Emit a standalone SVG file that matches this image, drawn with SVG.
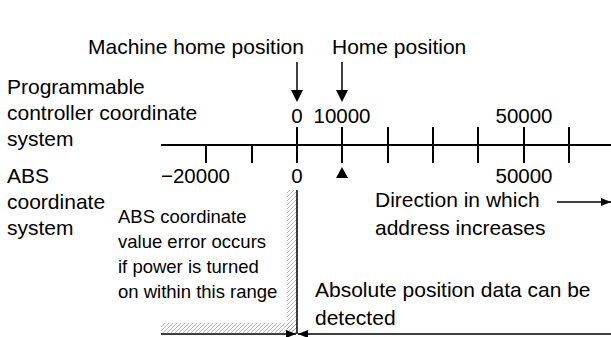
<svg xmlns="http://www.w3.org/2000/svg" width="611" height="337" viewBox="0 0 611 337">
<style>
text{font-family:"Liberation Sans",Arial,sans-serif;fill:#000}
.b{font-size:21px}
.n{font-size:20.5px}
.s{font-size:18.5px}
.ln{stroke:#000;stroke-width:2;fill:none}
.th{stroke:#000;stroke-width:1.5;fill:none}
</style>
<defs>
<pattern id="hatch" patternUnits="userSpaceOnUse" width="4" height="4">
<path d="M0,4 L4,0 M-1,1 L1,-1 M3,5 L5,3" stroke="#8a8a8a" stroke-width="0.6" fill="none"/>
</pattern>
<marker id="ah" markerWidth="10" markerHeight="8" refX="10" refY="4" orient="auto" markerUnits="userSpaceOnUse" viewBox="0 0 10 8">
<path d="M0,0 L10,4 L0,8 Z" fill="#000"/>
</marker>
</defs>

<g id="hatched-range">
<rect x="287" y="190" width="10" height="143" fill="url(#hatch)"/>
<rect x="161" y="323" width="136" height="10" fill="url(#hatch)"/>
</g>

<g id="connectors">
<line class="ln" x1="161" y1="145" x2="611" y2="145"/>
<line class="ln" x1="206" y1="145" x2="206" y2="163"/>
<line class="ln" x1="252" y1="145" x2="252" y2="163"/>
<line class="ln" x1="297" y1="127" x2="297" y2="163"/>
<line class="ln" x1="342" y1="127" x2="342" y2="163"/>
<line class="ln" x1="388" y1="127" x2="388" y2="163"/>
<line class="ln" x1="433" y1="127" x2="433" y2="163"/>
<line class="ln" x1="478" y1="127" x2="478" y2="163"/>
<line class="ln" x1="524" y1="127" x2="524" y2="163"/>
<line class="ln" x1="569" y1="127" x2="569" y2="163"/>
<line class="th" x1="297" y1="190" x2="297" y2="334"/>
<line class="th" x1="297" y1="62" x2="297" y2="92"/>
<line class="th" x1="342" y1="62" x2="342" y2="92"/>
<path d="M291,90 L303,90 L297,102 Z" fill="#000"/>
<path d="M336,90 L348,90 L342,102 Z" fill="#000"/>
<line class="th" x1="557" y1="202" x2="611" y2="202" marker-end="url(#ah)"/>
<line class="th" x1="161" y1="334" x2="296" y2="334" marker-end="url(#ah)"/>
<line class="th" x1="611" y1="334" x2="298" y2="334" marker-end="url(#ah)"/>
<path d="M336,178 L348,178 L342,167 Z" fill="#000"/>
</g>

<g id="machine-home-label">
<text class="b" x="88" y="54">Machine home position</text>
</g>
<g id="home-label">
<text class="b" x="332" y="54">Home position</text>
</g>
<g id="pc-coord-label">
<text class="b" x="7" y="94">Programmable</text>
<text class="b" x="7" y="120">controller coordinate</text>
<text class="b" x="7" y="146">system</text>
</g>
<g id="abs-coord-label">
<text class="b" x="7" y="183">ABS</text>
<text class="b" x="7" y="209">coordinate</text>
<text class="b" x="7" y="235">system</text>
</g>
<g id="pc-scale">
<text class="n" x="297" y="123" text-anchor="middle">0</text>
<text class="n" x="342" y="123" text-anchor="middle">10000</text>
<text class="n" x="524" y="123" text-anchor="middle">50000</text>
</g>
<g id="abs-scale">
<text class="n" x="161" y="183">−20000</text>
<text class="n" x="297" y="183" text-anchor="middle">0</text>
<text class="n" x="524" y="183" text-anchor="middle">50000</text>
</g>
<g id="direction-label">
<text class="b" x="375" y="207">Direction in which</text>
<text class="b" x="375" y="235">address increases</text>
</g>
<g id="error-range-label">
<text class="s" x="118" y="223">ABS coordinate</text>
<text class="s" x="118" y="248">value error occurs</text>
<text class="s" x="118" y="273">if power is turned</text>
<text class="s" x="118" y="298">on within this range</text>
</g>
<g id="detectable-label">
<text class="b" x="315" y="297">Absolute position data can be</text>
<text class="b" x="315" y="325">detected</text>
</g>
</svg>
